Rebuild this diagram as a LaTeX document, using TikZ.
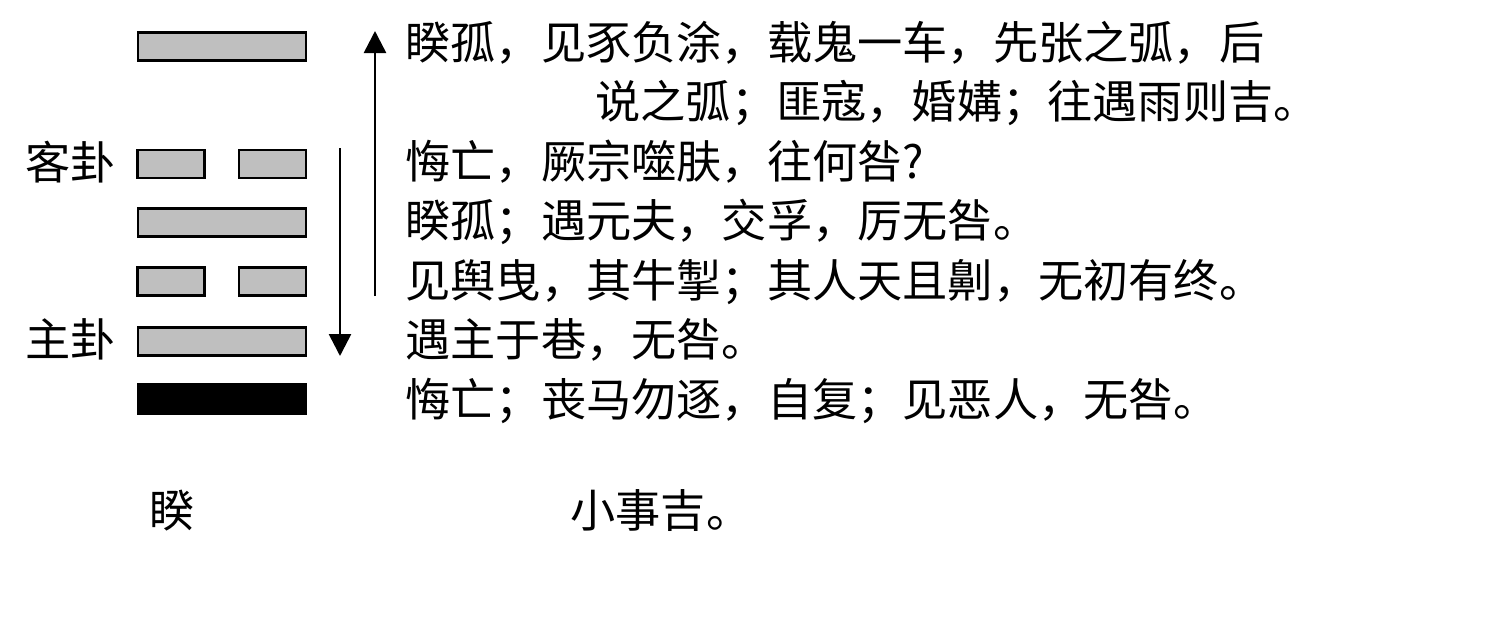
\documentclass[tikz,border=0pt]{standalone}
\usepackage{fontspec}
\setmainfont{Noto Sans CJK SC}
\usetikzlibrary{arrows.meta}
\begin{document}
\begin{tikzpicture}[x=0.5pt,y=-0.5pt,
  bar/.style={draw=black, fill=gray!50, line width=1.1pt, rectangle, inner sep=0pt, outer sep=0pt, minimum height=14pt},
  yang/.style={bar, minimum width=84pt},
  yin/.style={bar, minimum width=33.5pt},
  hot/.style={bar, fill=black},
  txt/.style={font=\fontsize{22.6pt}{26pt}\selectfont, inner sep=0pt, text height=0.88em, text depth=0.12em, yshift=-3.2pt},
  line/.style={txt, anchor=west},
  flow/.style={line width=1.3pt, -{Triangle[length=11pt,width=11pt]}}]
\useasboundingbox (0,0) rectangle (1500,623);
% hexagram
\node[yang] (l6) at (222,46.5) {};
\node[yin]  (l5a) at (171,164) {};
\node[yin]  (l5b) at (272.5,164) {};
\node[yang] (l4) at (222,222.5) {};
\node[yin]  (l3a) at (171,281.5) {};
\node[yin]  (l3b) at (272.5,281.5) {};
\node[yang] (l2) at (222,341.5) {};
\node[hot, minimum width=84pt, minimum height=15pt] (l1) at (222,399) {};
% labels
\node[txt, anchor=east] (guest) at (116,165) {客卦};
\node[txt, anchor=east] (host) at (116,342) {主卦};
\node[txt] (name) at (172,513) {睽};
% arrows
\coordinate (upS) at (375,296);
\coordinate (upE) at (375,31);
\coordinate (dnS) at (340,148);
\coordinate (dnE) at (340,356);
\draw[flow] (upS) -- (upE);
\draw[flow] (dnS) -- (dnE);
% texts
\node[line] (t6a) at (405,45) {睽孤，见豕负涂，载鬼一车，先张之弧，后};
\node[line] (t6b) at (595,104.5) {说之弧；匪寇，婚媾；往遇雨则吉。};
\node[line] (t5) at (405,164) {悔亡，厥宗噬肤，往何咎?};
\node[line] (t4) at (405,223.5) {睽孤；遇元夫，交孚，厉无咎。};
\node[line] (t3) at (405,283) {见舆曳，其牛掣；其人天且劓，无初有终。};
\node[line] (t2) at (405,342.5) {遇主于巷，无咎。};
\node[line] (t1) at (405,402) {悔亡；丧马勿逐，自复；见恶人，无咎。};
\node[line] (judg) at (570,513) {小事吉。};
\end{tikzpicture}
\end{document}
